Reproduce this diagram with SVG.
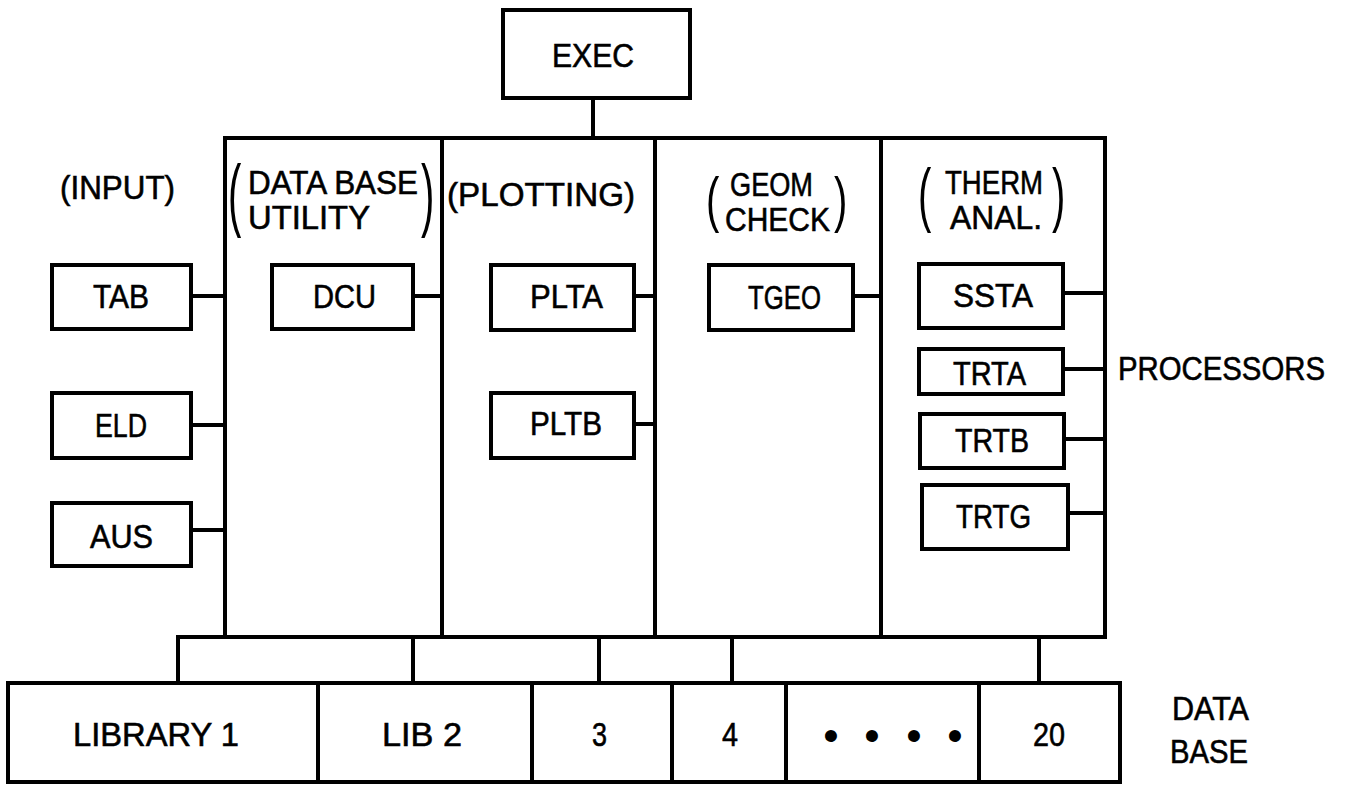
<svg xmlns="http://www.w3.org/2000/svg" width="1347" height="785" viewBox="0 0 1347 785">
<style>
.b{fill:none;stroke:#000;stroke-width:4;stroke-linejoin:miter}
.c{fill:none;stroke:#000;stroke-width:4}
.t{font-family:"Liberation Sans",Arial,sans-serif;font-size:28px;fill:#000;stroke:#000;stroke-width:0.5}
.p{font-family:"Liberation Sans",Arial,sans-serif;font-size:40px;fill:#000}
.d{font-family:"Liberation Sans",Arial,sans-serif;font-size:44px;fill:#000}
</style>
<rect width="1347" height="785" fill="#fff"/>

<g id="connectors">
<line class="c" x1="593" y1="98" x2="593" y2="138"/>
<line class="c" x1="191" y1="296" x2="225" y2="296"/>
<line class="c" x1="191" y1="425" x2="225" y2="425"/>
<line class="c" x1="191" y1="530" x2="225" y2="530"/>
<line class="c" x1="413" y1="296" x2="442" y2="296"/>
<line class="c" x1="634" y1="296" x2="655" y2="296"/>
<line class="c" x1="634" y1="424" x2="655" y2="424"/>
<line class="c" x1="853" y1="296" x2="881" y2="296"/>
<line class="c" x1="1063" y1="293" x2="1105" y2="293"/>
<line class="c" x1="1063" y1="369" x2="1105" y2="369"/>
<line class="c" x1="1064" y1="439" x2="1105" y2="439"/>
<line class="c" x1="1068" y1="513" x2="1105" y2="513"/>
<line class="c" x1="176" y1="637" x2="225" y2="637"/>
<line class="c" x1="178" y1="635" x2="178" y2="683"/>
<line class="c" x1="413" y1="637" x2="413" y2="683"/>
<line class="c" x1="599" y1="637" x2="599" y2="683"/>
<line class="c" x1="732" y1="637" x2="732" y2="683"/>
<line class="c" x1="1039" y1="637" x2="1039" y2="683"/>
</g>

<g id="exec">
<rect class="b" x="503" y="10" width="187" height="88"/>
<text class="t" transform="translate(552 67) scale(1 1.214)" textLength="82" lengthAdjust="spacingAndGlyphs">EXEC</text>
</g>

<g id="input">
<text class="t" transform="translate(60 199) scale(1 1.214)" textLength="115" lengthAdjust="spacingAndGlyphs">(INPUT)</text>
</g>
<g id="tab">
<rect class="b" x="52" y="265" width="139" height="64"/>
<text class="t" transform="translate(93 308) scale(1 1.214)" textLength="56" lengthAdjust="spacingAndGlyphs">TAB</text>
</g>
<g id="eld">
<rect class="b" x="52" y="393" width="139" height="65"/>
<text class="t" transform="translate(95 437) scale(1 1.214)" textLength="52" lengthAdjust="spacingAndGlyphs">ELD</text>
</g>
<g id="aus">
<rect class="b" x="52" y="503" width="139" height="63"/>
<text class="t" transform="translate(90 548) scale(1 1.214)" textLength="63" lengthAdjust="spacingAndGlyphs">AUS</text>
</g>

<g id="database-utility">
<rect class="b" x="225" y="138" width="217" height="499"/>
<text class="p" transform="translate(228 220.5) scale(1 1.97)">(</text>
<text class="t" transform="translate(248 194) scale(1 1.214)" textLength="170" lengthAdjust="spacingAndGlyphs">DATA BASE</text>
<text class="t" transform="translate(248 229) scale(1 1.214)" textLength="122" lengthAdjust="spacingAndGlyphs">UTILITY</text>
<text class="p" transform="translate(421 220.5) scale(1 1.97)">)</text>
</g>
<g id="dcu">
<rect class="b" x="272" y="265" width="141" height="64"/>
<text class="t" transform="translate(313 308) scale(1 1.214)" textLength="63" lengthAdjust="spacingAndGlyphs">DCU</text>
</g>

<g id="plotting">
<rect class="b" x="442" y="138" width="213" height="499"/>
<text class="t" transform="translate(447 206) scale(1 1.214)" textLength="188" lengthAdjust="spacingAndGlyphs">(PLOTTING)</text>
</g>
<g id="plta">
<rect class="b" x="491" y="265" width="143" height="65"/>
<text class="t" transform="translate(530 308) scale(1 1.214)" textLength="73" lengthAdjust="spacingAndGlyphs">PLTA</text>
</g>
<g id="pltb">
<rect class="b" x="491" y="393" width="143" height="65"/>
<text class="t" transform="translate(530 435) scale(1 1.214)" textLength="72" lengthAdjust="spacingAndGlyphs">PLTB</text>
</g>

<g id="geom-check">
<rect class="b" x="655" y="138" width="226" height="499"/>
<text class="p" transform="translate(706 220) scale(1 1.546)">(</text>
<text class="t" transform="translate(730 196) scale(1 1.214)" textLength="83" lengthAdjust="spacingAndGlyphs">GEOM</text>
<text class="t" transform="translate(725 231) scale(1 1.214)" textLength="105" lengthAdjust="spacingAndGlyphs">CHECK</text>
<text class="p" transform="translate(834 220) scale(1 1.546)">)</text>
</g>
<g id="tgeo">
<rect class="b" x="709" y="265" width="144" height="65"/>
<text class="t" transform="translate(748 309) scale(1 1.214)" textLength="73" lengthAdjust="spacingAndGlyphs">TGEO</text>
</g>

<g id="therm-anal">
<rect class="b" x="881" y="138" width="224" height="499"/>
<text class="p" transform="translate(918 218) scale(1 1.76)">(</text>
<text class="t" transform="translate(945 194) scale(1 1.214)" textLength="98" lengthAdjust="spacingAndGlyphs">THERM</text>
<text class="t" transform="translate(950 229) scale(1 1.214)" textLength="92" lengthAdjust="spacingAndGlyphs">ANAL.</text>
<text class="p" transform="translate(1052 218) scale(1 1.76)">)</text>
</g>
<g id="ssta">
<rect class="b" x="919" y="264" width="144" height="64"/>
<text class="t" transform="translate(953 307) scale(1 1.214)" textLength="80" lengthAdjust="spacingAndGlyphs">SSTA</text>
</g>
<g id="trta">
<rect class="b" x="919" y="349" width="144" height="45"/>
<text class="t" transform="translate(953 385) scale(1 1.214)" textLength="73" lengthAdjust="spacingAndGlyphs">TRTA</text>
</g>
<g id="trtb">
<rect class="b" x="920" y="414" width="144" height="54"/>
<text class="t" transform="translate(955 452) scale(1 1.214)" textLength="74" lengthAdjust="spacingAndGlyphs">TRTB</text>
</g>
<g id="trtg">
<rect class="b" x="922" y="485" width="146" height="64"/>
<text class="t" transform="translate(956 528) scale(1 1.214)" textLength="75" lengthAdjust="spacingAndGlyphs">TRTG</text>
</g>

<g id="processors">
<text class="t" transform="translate(1118 380) scale(1 1.214)" textLength="207" lengthAdjust="spacingAndGlyphs">PROCESSORS</text>
</g>

<g id="data-base">
<rect class="b" x="8" y="683" width="1112" height="99"/>
<line class="c" x1="318" y1="683" x2="318" y2="782"/>
<line class="c" x1="532" y1="683" x2="532" y2="782"/>
<line class="c" x1="672" y1="683" x2="672" y2="782"/>
<line class="c" x1="786" y1="683" x2="786" y2="782"/>
<line class="c" x1="979" y1="683" x2="979" y2="782"/>
<text class="t" transform="translate(73 746) scale(1 1.214)" textLength="166" lengthAdjust="spacingAndGlyphs">LIBRARY 1</text>
<text class="t" transform="translate(382 746) scale(1 1.214)" textLength="80" lengthAdjust="spacingAndGlyphs">LIB 2</text>
<text class="t" transform="translate(592 746) scale(1 1.214)" textLength="15" lengthAdjust="spacingAndGlyphs">3</text>
<text class="t" transform="translate(722 746) scale(1 1.214)" textLength="16" lengthAdjust="spacingAndGlyphs">4</text>
<text class="d" x="831 872 914 955" y="751" text-anchor="middle">••••</text>
<text class="t" transform="translate(1033 746) scale(1 1.214)" textLength="32" lengthAdjust="spacingAndGlyphs">20</text>
<text class="t" transform="translate(1172 720) scale(1 1.214)" textLength="77" lengthAdjust="spacingAndGlyphs">DATA</text>
<text class="t" transform="translate(1170 763) scale(1 1.214)" textLength="78" lengthAdjust="spacingAndGlyphs">BASE</text>
</g>
</svg>
